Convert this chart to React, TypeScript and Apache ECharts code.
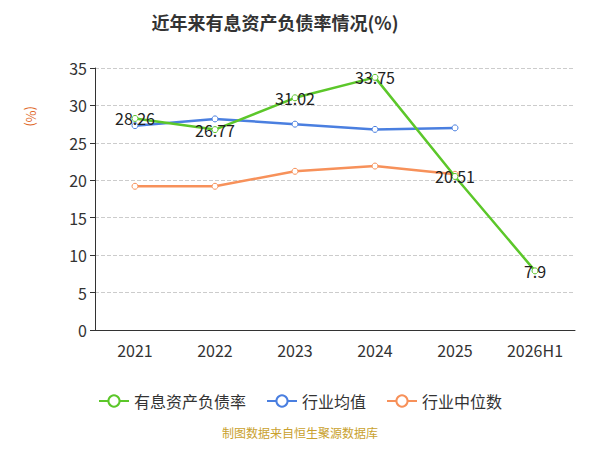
import React, { useEffect, useRef } from "react";
import * as echarts from "echarts";

const categories = ["2021", "2022", "2023", "2024", "2025", "2026H1"];
const debtRatio = [28.26, 26.77, 31.02, 33.75, 20.51, 7.9];
const industryAvg = [27.3, 28.2, 27.5, 26.8, 27.0, null];
const industryMedian = [19.2, 19.2, 21.2, 21.9, 20.8, null];

export default function App() {
  const ref = useRef<HTMLDivElement>(null);
  useEffect(() => {
    const chart = echarts.init(ref.current!, null, { renderer: "svg" });
    const font = "'Noto Sans CJK SC', 'Noto Sans', sans-serif";
    chart.setOption({
      animation: false,
      textStyle: { fontFamily: font },
      title: {
        text: "近年来有息资产负债率情况(%)",
        left: 262, top: 0, textAlign: "center",
        textStyle: { fontSize: 18, fontWeight: "bold", color: "#333" },
      },
      graphic: [
        { type: "text", x: 30, y: 98, rotation: -Math.PI / 2,
          style: { text: "(%)", fill: "#e0692a", fontSize: 13, fontFamily: font } },
        { type: "text", left: "center", top: 418,
          style: { text: "制图数据来自恒生聚源数据库", fill: "#c9a12d", fontSize: 12, fontFamily: font } },
      ],
      legend: {
        bottom: 28, itemGap: 20, itemWidth: 30, itemHeight: 14,
        textStyle: { fontSize: 16, color: "#333" },
        data: ["有息资产负债率", "行业均值", "行业中位数"],
      },
      grid: { left: 87, right: 17, top: 60, bottom: 112 },
      xAxis: {
        type: "category", data: categories,
        axisLine: { lineStyle: { color: "#333" } },
        axisTick: { alignWithLabel: false },
        axisLabel: { fontSize: 16, color: "#333", margin: 12 },
      },
      yAxis: {
        type: "value", min: 0, max: 35, interval: 5,
        axisLine: { show: true, lineStyle: { color: "#333" } },
        axisTick: { show: true },
        axisLabel: { fontSize: 16, color: "#333" },
        splitLine: { lineStyle: { type: "dashed", color: "#ccc" } },
      },
      series: [
        { name: "有息资产负债率", type: "line", data: debtRatio, color: "#5cc72a",
          symbol: "circle", symbolSize: 6, itemStyle: { color: "#fff", borderColor: "#5cc72a", borderWidth: 1 },
          lineStyle: { width: 2.5, color: "#5cc72a" },
          label: { show: true, position: "inside", fontSize: 16, color: "#222" }, z: 5 },
        { name: "行业均值", type: "line", data: industryAvg, color: "#4a7fe0",
          symbol: "circle", symbolSize: 6, itemStyle: { color: "#fff", borderColor: "#4a7fe0", borderWidth: 1 },
          lineStyle: { width: 2.5, color: "#4a7fe0" } },
        { name: "行业中位数", type: "line", data: industryMedian, color: "#f7915a",
          symbol: "circle", symbolSize: 6, itemStyle: { color: "#fff", borderColor: "#f7915a", borderWidth: 1 },
          lineStyle: { width: 2.5, color: "#f7915a" } },
      ],
    });
    return () => chart.dispose();
  }, []);
  return <div ref={ref} style={{ width: 584, height: 434 }} />;
}
